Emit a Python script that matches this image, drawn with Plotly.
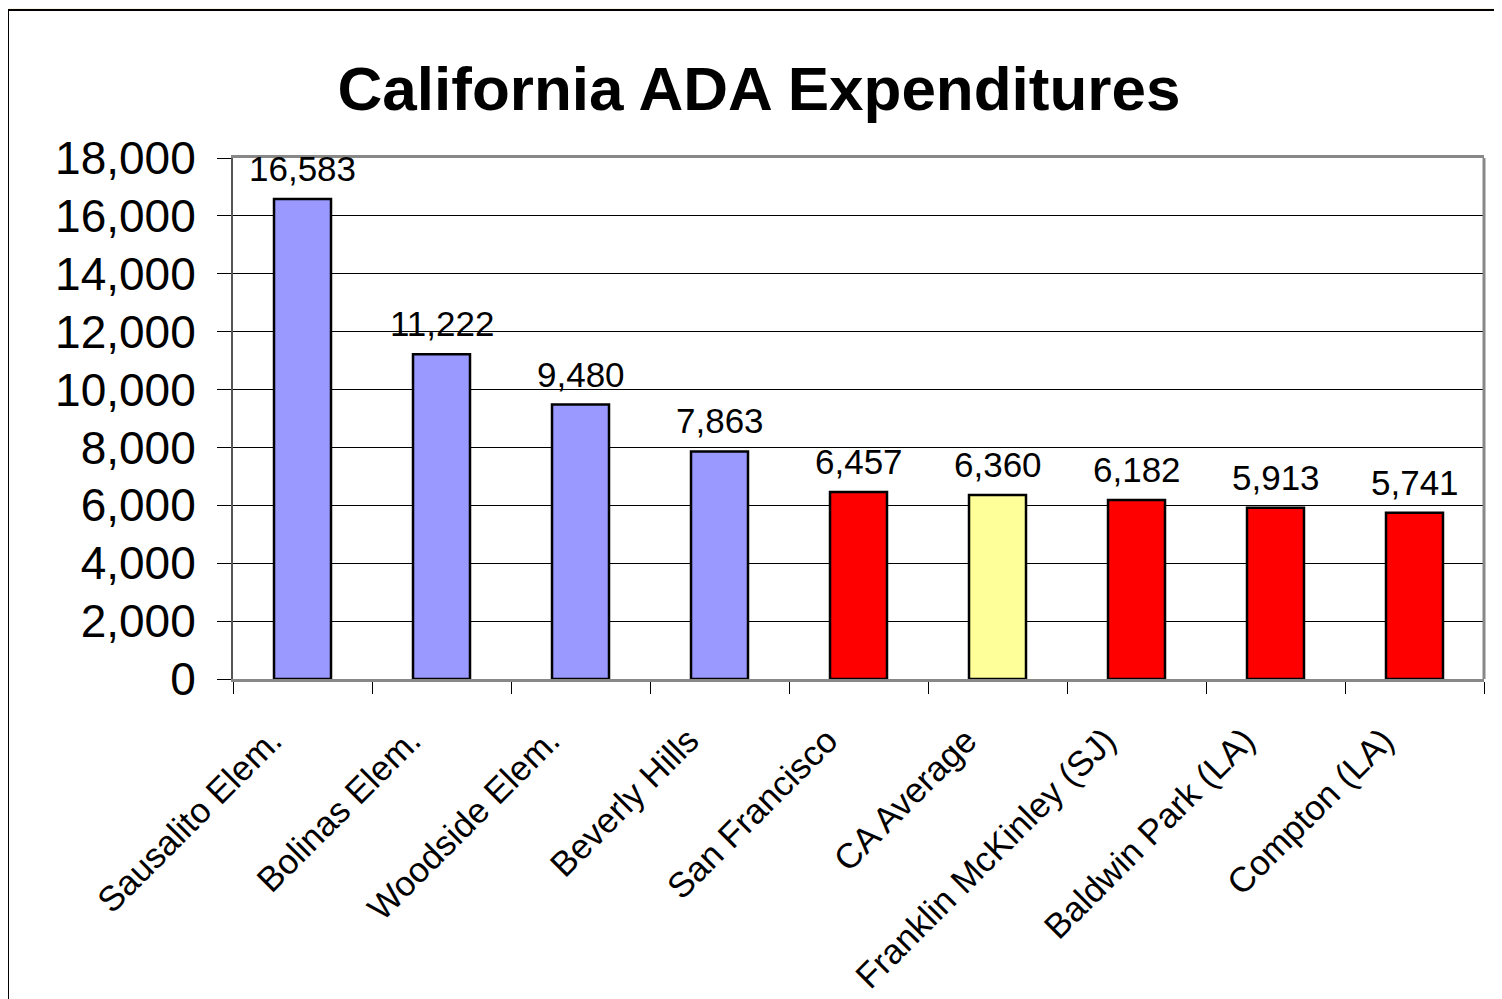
import plotly.graph_objects as go

categories = ["Sausalito Elem.", "Bolinas Elem.", "Woodside Elem.", "Beverly Hills",
              "San Francisco", "CA Average", "Franklin McKinley (SJ)",
              "Baldwin Park (LA)", "Compton (LA)"]
values = [16583, 11222, 9480, 7863, 6457, 6360, 6182, 5913, 5741]
bar_colors = ["#9999FF", "#9999FF", "#9999FF", "#9999FF",
              "#FF0000", "#FFFF99", "#FF0000", "#FF0000", "#FF0000"]
y_ticks = [0, 2000, 4000, 6000, 8000, 10000, 12000, 14000, 16000, 18000]

FONT = "Liberation Sans, Arial, sans-serif"

fig = go.Figure(go.Bar(
    x=categories, y=values,
    marker=dict(color=bar_colors, line=dict(color="black", width=2.5)),
    cliponaxis=False,
    width=0.41,
))

# page body has an 8px offset, so the figure is placed 8px in from the page
OFF = 8
L, R, T, B = 233 - OFF, 1484 - OFF, 158 - OFF, 679 - OFF
W, H = 1502 - OFF, 999 - OFF
pw, ph = R - L, B - T

def px_x(p):
    return (p - L) / pw

def px_y(p):
    return (B - p) / ph

annotations = [
    dict(x=c, y=v, xref="x", yref="y", text=f"{v:,}", showarrow=False,
         yanchor="bottom", xanchor="center", yshift=9,
         font=dict(family=FONT, size=35, color="black"))
    for c, v in zip(categories, values)
]

fig.update_layout(
    width=W, height=H,
    margin=dict(l=L, r=W - R, t=T, b=H - B, autoexpand=False),
    paper_bgcolor="#F8F5E6",
    plot_bgcolor="white",
    showlegend=False,
    title=dict(text="<b>California ADA Expenditures</b>",
               font=dict(family=FONT, size=62, color="black"),
               x=(759 - OFF) / W, xanchor="center", y=1 - (88 - OFF) / H, yanchor="middle"),
    xaxis=dict(
        type="category", tickangle=-45,
        tickfont=dict(family=FONT, size=35, color="black"),
        showline=True, linecolor="#888888", linewidth=3, mirror=True,
        ticks="outside", ticklen=12, tickcolor="black", tickwidth=1,
        tickson="boundaries", showgrid=False,
        ticklabelstandoff=24, ticklabelshift=-31,
    ),
    yaxis=dict(
        range=[0, 18000], tickvals=y_ticks,
        ticktext=[f"{v:,}" for v in y_ticks],
        tickfont=dict(family=FONT, size=46, color="black"),
        showline=True, linecolor="#555555", linewidth=2,
        ticks="outside", ticklen=14, tickcolor="black", tickwidth=1,
        ticklabelstandoff=12,
        showgrid=True, gridcolor="black", gridwidth=1,
        zeroline=False, fixedrange=True,
    ),
    annotations=annotations,
    shapes=[
        dict(type="rect", xref="paper", yref="paper",
             x0=px_x(7 - OFF + 1), x1=px_x(1560), y0=px_y(1100), y1=px_y(9 - OFF + 1),
             fillcolor="white", line=dict(color="black", width=2),
             layer="below"),
        dict(type="line", xref="paper", yref="paper",
             x0=1, x1=1, y0=0, y1=1,
             line=dict(color="#888888", width=3), layer="above"),
    ],
)

fig.write_html("out.html")
